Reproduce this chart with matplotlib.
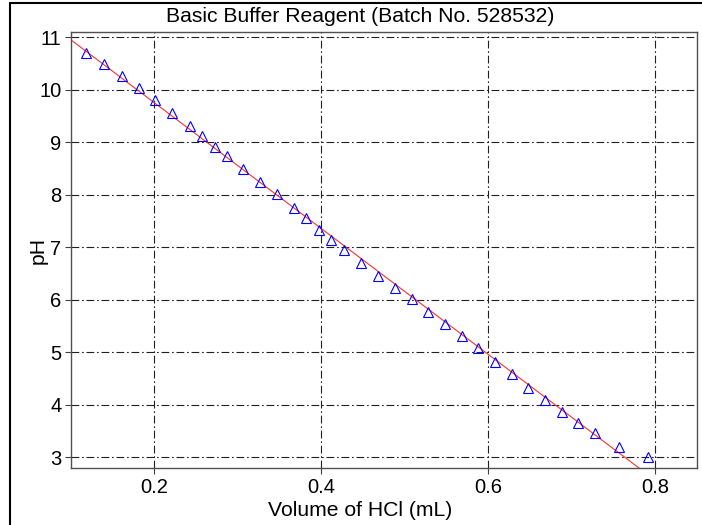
import matplotlib
matplotlib.use("Agg")
import matplotlib.pyplot as plt
from matplotlib.patches import Rectangle
import numpy as np

# --- Data ---
volume_ml = [0.118, 0.140, 0.161, 0.181, 0.201, 0.2215, 0.243, 0.257, 0.272, 0.287,
             0.306, 0.327, 0.347, 0.367, 0.382, 0.397, 0.412, 0.4265, 0.448, 0.468,
             0.488, 0.508, 0.528, 0.548, 0.568, 0.588, 0.608, 0.628, 0.648, 0.668,
             0.688, 0.708, 0.728, 0.757, 0.791]
ph = [10.70, 10.49, 10.26, 10.03, 9.81, 9.56, 9.32, 9.12, 8.92, 8.73,
      8.49, 8.24, 8.01, 7.75, 7.56, 7.34, 7.14, 6.95, 6.70, 6.45,
      6.22, 6.02, 5.77, 5.55, 5.32, 5.08, 4.82, 4.58, 4.33, 4.10,
      3.87, 3.65, 3.46, 3.20, 3.00]
x_ticks = [0.2, 0.4, 0.6, 0.8]
y_ticks = [3, 4, 5, 6, 7, 8, 9, 10, 11]

plt.rcParams['font.family'] = ['Liberation Sans', 'DejaVu Sans']

W, H = 702, 525
fig = plt.figure(figsize=(W / 100, H / 100), dpi=100)
ax = fig.add_axes([71 / W, 1 - 468 / H, 626 / W, 436 / H])

# --- linear fit ---
coef = np.polyfit(volume_ml, ph, 1)
xf = np.array([0.1, 0.85])
ax.plot(xf, np.polyval(coef, xf), color='#ff3030', lw=0.8, zorder=2)

ax.plot(volume_ml, ph, linestyle='none', marker='^', ms=7, mfc='none',
        mec='#0000ff', mew=0.8, zorder=3)

ax.set_xlim(0.1, 0.85)
ax.set_ylim(2.8, 11.1)
ax.set_xticks(x_ticks)
ax.set_xticklabels([f"{v:.1f}" for v in x_ticks])
ax.set_yticks(y_ticks)

ax.grid(True, color='#202020', lw=0.8, linestyle=(0, (7, 2.5, 1.5, 2.5)))
ax.tick_params(direction='out', length=4, width=0.8, color='#404040',
               labelsize=14.5, pad=3)
for s in ax.spines.values():
    s.set_color('#505050')
    s.set_linewidth(1.0)

fig.text(360 / W, 1 - 17 / H, "Basic Buffer Reagent (Batch No. 528532)",
         ha='center', va='center', fontsize=15.2)
fig.text(360 / W, 1 - 510 / H, "Volume of HCl (mL)", ha='center', va='center',
         fontsize=15.2)
fig.text(38 / W, 1 - 250 / H, "pH", ha='center', va='center', rotation=90,
         fontsize=15.2)

# outer frame (cut off at right/bottom like the reference)
fig.patches.append(Rectangle((10 / W, -0.1), 1.2, 1 - 3 / H + 0.1,
                             transform=fig.transFigure, fill=False,
                             edgecolor='black', lw=1.5))

fig.savefig("out.png", dpi=100)
